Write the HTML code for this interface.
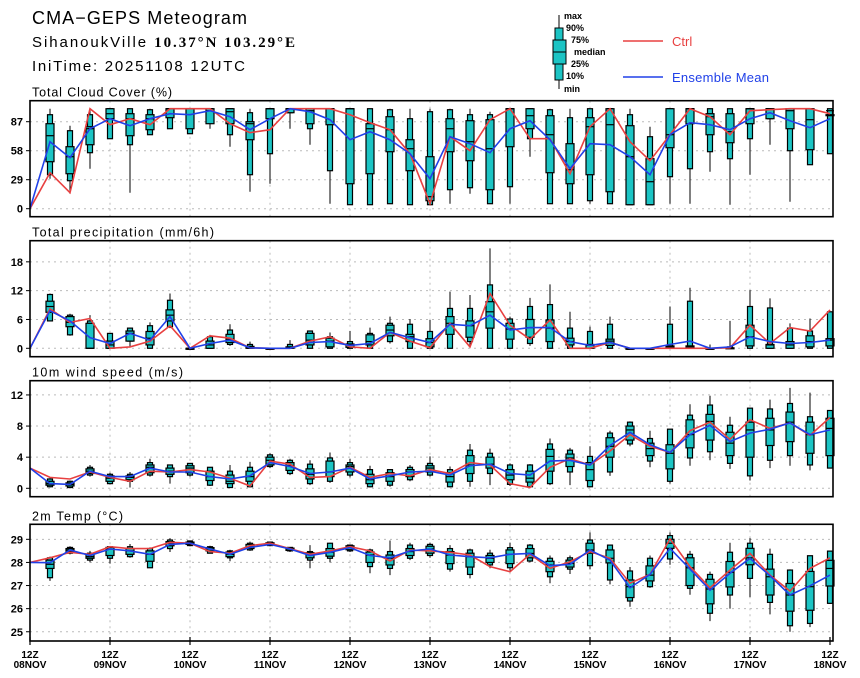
<!DOCTYPE html>
<html><head><meta charset="utf-8"><style>
html,body{margin:0;padding:0;background:#fff;width:860px;height:678px;overflow:hidden}
svg{display:block}
text{font-family:"Liberation Sans",sans-serif}
</style></head><body>
<svg id="chart" width="860" height="678" viewBox="0 0 860 678" xmlns="http://www.w3.org/2000/svg">
<text x="32" y="24" font-size="18" fill="#000" textLength="215" lengthAdjust="spacing">CMA−GEPS Meteogram</text>
<text x="32" y="47" font-size="15" fill="#000" textLength="263" lengthAdjust="spacing">SihanoukVille <tspan font-weight="bold" font-family="Liberation Serif">10.37°N 103.29°E</tspan></text>
<text x="32" y="71" font-size="15" fill="#000" textLength="213" lengthAdjust="spacing">IniTime: 20251108 12UTC</text>
<g>
 <g>
  <line x1="559" y1="15" x2="559" y2="89" stroke="#000" stroke-width="1"/>
  <rect x="555" y="28" width="8" height="52" fill="#1cc4c4" stroke="#000" stroke-width="1"/>
  <rect x="553" y="40" width="13" height="24" fill="#1cc4c4" stroke="#000" stroke-width="1"/>
  <line x1="553" y1="52" x2="566" y2="52" stroke="#000"/>
 </g>
 <g font-size="9" font-weight="bold" fill="#000">
  <text x="564" y="19">max</text>
  <text x="566" y="31">90%</text>
  <text x="571" y="43">75%</text>
  <text x="574" y="55">median</text>
  <text x="571" y="67">25%</text>
  <text x="566" y="79">10%</text>
  <text x="564" y="92">min</text>
 </g>
 <line x1="623" y1="41" x2="663" y2="41" stroke="#e84040" stroke-width="1.5"/>
 <text x="672" y="46" font-size="13" fill="#e84040">Ctrl</text>
 <line x1="623" y1="77" x2="663" y2="77" stroke="#2040e8" stroke-width="1.5"/>
 <text x="672" y="82" font-size="13" fill="#2040e8" textLength="97" lengthAdjust="spacing">Ensemble Mean</text>
</g>
</svg>
<script>
const dayLabels=["08NOV","09NOV","10NOV","11NOV","12NOV","13NOV","14NOV","15NOV","16NOV","17NOV","18NOV"];
const N=null;
// Total cloud cover (%)
const cldMax=[N,100,83,100,100,100,100,100,100,100,100,100,100,100,100,100,100,100,100,100,100,100,100,97,100,100,100,100,100,100,100,82,100,100,100,100,100,100,100,100,100];
const cldP90=[N,94,78,94,100,100,99,100,100,100,100,96,100,100,100,100,100,100,99,90,97,99,94,94,100,100,99,91,100,100,94,72,100,100,100,100,100,100,100,100,100];
const cldP75=[N,85,62,82,100,95,94,100,100,100,100,87,100,100,100,100,100,85,92,69,52,90,88,89,100,100,93,65,91,100,83,50,100,100,95,95,100,100,100,100,94];
const cldMed=[N,73,52,80,95,90,90,100,100,98,97,85,100,100,98,100,100,80,79,60,12,80,67,60,100,93,74,39,82,84,52,27,74,100,92,77,100,100,98,89,98];
const cldP25=[N,47,35,64,90,73,79,91,80,85,85,69,90,96,85,84,25,35,57,38,8,57,48,19,62,80,36,25,34,17,4,4,61,85,74,66,85,90,80,59,94];
const cldP10=[N,34,28,56,70,64,74,80,75,89,74,34,55,96,80,38,4,4,5,4,4,19,21,5,22,70,5,5,8,5,4,4,32,40,57,50,70,90,58,44,55];
const cldMin=[N,30,15,40,70,16,74,80,75,80,62,17,25,80,64,5,4,4,5,4,4,5,15,5,5,52,5,5,5,5,4,4,5,5,37,4,34,64,7,44,55];
const cldCtrl=[0,36,16,100,84,90,84,100,100,100,85,76,79,100,100,100,94,86,79,55,5,72,58,89,100,70,70,35,82,100,67,48,74,100,92,74,98,99,100,100,95];
const cldMean=[0,67,51,80,90,83,90,95,94,98,92,79,90,100,97,89,69,77,69,55,30,72,65,56,80,88,69,40,65,64,52,34,74,86,84,79,90,96,88,81,90];
const cldTicks=[0,29,58,87];
// Total precipitation (mm/6h)
const prMax=[N,11.4,7.2,6.9,3.1,4.3,5.4,11.4,0,2.8,5.0,1.4,0,1.7,3.6,3.3,3.6,4.3,6.6,6.1,5.9,11.8,11.1,20.8,6.6,10.5,13.3,7.6,4.5,6.6,0,0,8.7,12.6,0.8,5.7,12.1,10.4,5.2,6.2,7.6];
const prP90=[N,11.2,6.9,5.7,3.1,4.2,4.7,10,0,2.4,3.8,0.8,0,0.8,3.6,2.4,1.4,3.1,5.2,5.0,3.5,8.3,8.3,13.2,6.1,8.7,9.1,4.2,3.5,5.0,0,0,5.0,9.8,0,0.3,8.7,8.4,4.2,3.6,7.6];
const prP75=[N,9.8,6.6,5.2,1.5,3.6,3.5,8,0,1.5,2.9,0.4,0,0.3,3.1,2.1,0.9,2.8,4.8,2.9,2.0,6.6,5.7,9.7,5.2,6.0,5.9,2.1,0.8,1.9,0,0,0.5,0.5,0,0.1,4.8,0.8,1.4,2.6,2.0];
const prMed=[N,8.7,5.4,0,0.7,3.1,2.1,6.9,0,0.7,1.9,0.2,0,0.1,1.7,1.5,0.6,1.4,3.8,2.4,1.2,5.2,4.7,7.6,4.0,4.3,4.2,1.4,0.6,1.5,0,0,0.3,0.3,0,0,2.4,0.7,0.7,1.4,1.7];
const prP25=[N,7.5,4.5,0,0,1.5,0.7,5.7,0,0,1.2,0,0,0,0.7,0.3,0.2,0.7,2.6,1.4,0.3,2.9,2.3,4.2,1.9,2.3,1.4,0.7,0,0.6,0,0,0,0,0,0,0.5,0,0,0.3,0.5];
const prP10=[N,5.7,2.8,0,0,1.5,0,4.5,0,0,0.8,0,0,0,0,0,0,0,1.4,0,0,0,1.4,0,0,1.0,0,0,0,0,0,0,0,0,0,0,0,0,0,0,0];
const prMin=[N,5.7,2.6,0,0,0.3,0,4.2,0,0,0.5,0,0,0,0,0,0,0,1.0,0,0,0,0.5,0,0,0.5,0,0,0,0,0,0,0,0,0,0,0,0,0,0,0];
const prCtrl=[0,8.2,5.4,6.2,0,0.3,1.5,4.7,0,2.6,2.1,0.1,0,0,1.5,2.4,0.3,0,3.3,1.5,0.1,5.2,0.3,11.4,4.8,1.9,5.9,0,0,1.2,0,0,0,0,0,0.1,4.8,1.0,4.3,3.6,8.0];
const prMean=[0,7.8,5.7,2.2,1.0,3.1,1.7,6.6,0,1.0,1.7,0.1,0,0,1.2,1.4,0.6,1.0,3.3,2.2,1.2,5.0,4.7,6.9,3.8,4.3,4.3,1.4,0.6,1.2,0,0,0.8,1.5,0,0.3,2.4,1.4,1.0,1.2,1.7];
const prTicks=[0,6,12,18];
// 10m wind speed (m/s)
const wsMax=[N,1.3,1.0,3.0,2.0,2.1,3.8,3.0,3.2,2.7,3.0,3.4,4.5,3.8,3.6,4.6,3.8,2.9,2.4,3.0,4.1,2.8,5.7,5.1,3.2,3.1,6.4,5.2,5.4,7.4,8.6,7.4,7.6,10.8,11.9,9.2,10.3,11.4,12.9,12.3,10.0];
const wsP90=[N,1.2,0.9,2.7,1.8,1.8,3.3,3.0,3.2,2.7,2.2,2.7,4.3,3.6,3.1,3.9,3.3,2.4,2.4,2.7,3.2,2.4,4.9,4.5,3.0,3.0,5.7,4.9,4.1,7.1,8.5,6.4,7.6,9.4,10.7,8.1,10.3,10.2,10.9,9.2,10.0];
const wsP75=[N,0.9,0.7,2.5,1.6,1.6,3.0,2.6,2.9,2.2,1.7,2.2,4.0,3.3,2.5,3.5,3.0,1.8,2.0,2.4,2.9,2.0,4.2,4.0,2.4,2.2,5.0,4.4,3.3,6.5,8.0,5.8,5.6,8.8,9.5,7.2,8.5,9.0,9.8,8.5,9.0];
const wsMed=[N,0.6,0.5,2.2,1.3,1.4,2.7,2.2,2.6,1.5,0.9,1.5,3.6,2.9,1.8,2.1,2.8,1.1,1.5,2.1,2.6,1.5,3.0,3.1,1.7,1.3,4.1,3.9,2.4,5.4,7.5,5.1,4.5,6.9,8.6,5.8,7.5,7.5,8.5,6.9,7.7];
const wsP25=[N,0.4,0.3,1.9,0.9,1.1,2.0,1.8,2.0,1.0,0.6,0.9,3.0,2.3,1.2,1.5,2.1,0.6,0.9,1.5,2.1,0.8,1.9,2.6,1.1,0.8,2.2,2.8,1.0,4.0,6.2,4.2,2.5,5.2,6.2,4.2,4.0,5.5,6.0,4.5,4.2];
const wsP10=[N,0.2,0.1,1.7,0.6,0.9,1.7,1.5,1.7,0.4,0.1,0.2,2.8,1.9,0.6,0.9,1.7,0.2,0.4,1.1,1.7,0.2,0.9,1.9,0.5,0.2,0.6,2.1,0.2,2.1,5.7,3.5,0.9,3.9,4.7,3.2,1.6,3.6,4.2,3.0,2.6];
const wsMin=[N,0.1,0.0,1.5,0.5,0.1,1.5,0.6,1.5,0.3,0.1,0.1,2.6,1.7,0.4,0.7,1.4,0.1,0.2,0.9,1.5,0.1,0.2,0.4,0.3,0.1,0.4,0.4,0.1,1.6,5.4,2.7,0.6,2.9,3.6,2.5,1.0,2.6,2.9,2.3,2.6];
const wsCtrl=[2.6,1.4,1.2,2.1,1.4,0.9,2.2,2.1,2.4,2.1,1.3,0.3,3.5,3.1,1.4,1.5,2.7,1.4,1.9,1.6,2.4,1.9,3.3,3.0,0.6,0.1,2.7,3.8,3.0,4.8,6.9,5.4,4.6,7.4,8.5,6.3,8.8,7.7,8.4,6.8,9.1];
const wsMean=[2.6,0.6,0.5,2.2,1.5,1.5,2.6,2.1,2.1,1.5,1.2,1.6,3.3,2.8,1.9,2.1,2.6,1.2,1.6,2.1,2.2,1.7,2.9,3.1,1.9,1.7,3.5,3.6,3.0,5.5,7.2,5.6,4.6,6.9,8.1,6.0,7.1,7.6,8.4,6.9,7.5];
const wsTicks=[0,4,8,12];
// 2m temperature (C)
const tMax=[N,28.25,28.7,28.5,28.7,28.8,28.65,29.05,28.95,28.72,28.55,28.9,28.9,28.65,28.75,28.85,28.75,28.6,28.95,28.85,28.85,28.75,28.6,28.55,28.85,28.8,28.3,28.3,29.3,28.75,27.8,28.3,29.3,28.5,27.6,28.85,29.05,28.6,27.7,28.3,28.5];
const tP90=[N,28.2,28.65,28.4,28.68,28.68,28.6,28.97,28.93,28.68,28.5,28.83,28.88,28.65,28.47,28.83,28.75,28.54,28.47,28.75,28.78,28.6,28.54,28.4,28.64,28.75,28.18,28.2,28.97,28.75,27.63,28.18,29.16,28.35,27.48,28.44,28.83,28.35,27.67,28.29,28.49];
const tP75=[N,28.1,28.6,28.35,28.65,28.6,28.5,28.9,28.88,28.64,28.45,28.78,28.85,28.62,28.42,28.6,28.72,28.45,28.32,28.6,28.7,28.47,28.4,28.3,28.54,28.6,28.05,28.1,28.83,28.54,27.24,27.85,29.0,28.2,27.27,28.04,28.61,27.71,27.09,27.61,28.09];
const tMed=[N,27.92,28.54,28.25,28.58,28.5,28.35,28.83,28.83,28.58,28.35,28.68,28.83,28.58,28.35,28.44,28.64,28.32,28.18,28.47,28.58,28.32,28.25,28.18,28.35,28.39,27.89,27.96,28.54,28.18,26.95,27.45,28.83,27.77,26.85,27.57,28.2,27.38,26.59,26.95,27.74];
const tP25=[N,27.74,28.48,28.18,28.3,28.35,28.05,28.72,28.78,28.5,28.25,28.6,28.78,28.52,28.2,28.27,28.55,28.0,27.89,28.3,28.4,27.95,27.8,28.0,27.95,28.2,27.6,27.8,28.4,27.98,26.48,27.2,28.61,27.0,26.21,26.94,27.9,26.59,25.89,25.93,26.98];
const tP10=[N,27.34,28.4,28.1,28.18,28.25,27.77,28.6,28.73,28.4,28.2,28.54,28.73,28.5,28.1,28.18,28.5,27.82,27.74,28.18,28.3,27.71,27.48,27.89,27.77,28.06,27.38,27.71,27.86,27.24,26.33,26.95,28.15,26.88,25.8,26.59,27.31,26.27,25.26,25.36,26.23];
const tMin=[N,27.2,28.35,28.0,27.95,28.2,27.77,28.45,28.7,28.4,28.05,28.5,28.7,28.45,27.75,28.0,28.45,27.53,27.45,28.1,28.2,27.6,27.31,27.75,27.65,28.0,27.1,27.5,27.7,27.05,26.08,26.9,27.9,26.6,25.46,26.0,26.5,25.75,25.0,25.2,26.2];
const tCtrl=[28.0,28.2,28.44,28.35,28.68,28.6,28.6,28.87,28.83,28.47,28.4,28.73,28.83,28.6,28.35,28.5,28.68,28.5,28.06,28.54,28.5,28.44,28.32,27.82,27.6,28.35,27.74,28.03,28.47,28.18,27.1,27.48,29.02,27.82,26.9,27.67,28.39,27.45,26.76,27.74,28.2];
const tMean=[28.0,27.99,28.54,28.3,28.58,28.5,28.35,28.78,28.83,28.58,28.35,28.65,28.78,28.58,28.3,28.44,28.64,28.3,28.2,28.5,28.58,28.32,28.25,28.2,28.35,28.39,27.86,27.92,28.54,28.1,26.9,27.48,28.61,27.71,26.8,27.53,28.18,27.42,26.59,26.99,27.45];
const tTicks=[25,26,27,28,29];

const NS="http://www.w3.org/2000/svg";
const svg=document.getElementById("chart");
const X0=30,X1=833,NSTEP=40;
function xS(i){return X0+(X1-3-X0)*i/NSTEP;}
function mk(tag,attrs,parent){const e=document.createElementNS(NS,tag);for(const k in attrs)e.setAttribute(k,attrs[k]);(parent||svg).appendChild(e);return e;}

function panel(key,title,titleLen,top,bot,vmin,vmax,ticks,mx,p90,p75,md,p25,p10,mn,ctrl,mean,isLast){
  const g=mk("g",{});
  
  
  const y=v=>bot-(v-vmin)/(vmax-vmin)*(bot-top);
  const t=mk("text",{x:X0+2,y:top-4,"font-size":"12.5",fill:"#000",textLength:titleLen,lengthAdjust:"spacing"},g);
  t.textContent=title;
  
  
  ticks.forEach(v=>{
    const l=mk("line",{x1:X0,x2:X1,y1:y(v),y2:y(v),stroke:"#bbb","stroke-dasharray":"2,4","stroke-width":"1"},g);
    
    
    const tk=mk("line",{x1:X0-4,x2:X0,y1:y(v),y2:y(v),stroke:"#000"},g);
    
    
    const tl=mk("text",{x:X0-7,y:y(v)+4,"font-size":"11","font-weight":"bold","text-anchor":"end",fill:"#000"},g);
    tl.textContent=v;
    
    
  });
  for(let d=1;d<dayLabels.length-1;d++){
    const l=mk("line",{x1:xS(d*4),x2:xS(d*4),y1:top,y2:bot,stroke:"#bbb","stroke-dasharray":"2,4"},g);
    
    
  }
  for(let i=0;i<mx.length;i++){
    if(mx[i]===null)continue;
    const bg=mk("g",{},g);
    
    
    const cx=xS(i);
    mk("line",{x1:cx,x2:cx,y1:y(mx[i]),y2:y(mn[i]),stroke:"#000","stroke-width":"1"},bg);
    mk("rect",{x:cx-2.5,y:y(p90[i]),width:5,height:Math.max(1,y(p10[i])-y(p90[i])),fill:"#1cc4c4",stroke:"#000","stroke-width":"1.2"},bg);
    mk("rect",{x:cx-4,y:y(p75[i]),width:8,height:Math.max(1,y(p25[i])-y(p75[i])),fill:"#1cc4c4",stroke:"#000","stroke-width":"1.2"},bg);
    mk("line",{x1:cx-4,x2:cx+4,y1:y(md[i]),y2:y(md[i]),stroke:"#000","stroke-width":"1.2"},bg);
  }
  const pc=ctrl.map((v,i)=>xS(i).toFixed(1)+","+y(v).toFixed(1)).join(" ");
  const lc=mk("polyline",{points:pc,fill:"none",stroke:"#e84040","stroke-width":"1.6"},g);
  
  
  const pm=mean.map((v,i)=>xS(i).toFixed(1)+","+y(v).toFixed(1)).join(" ");
  const lm=mk("polyline",{points:pm,fill:"none",stroke:"#2040e8","stroke-width":"1.6"},g);
  
  
  const fr=mk("rect",{x:X0,y:top,width:X1-X0,height:bot-top,fill:"none",stroke:"#000","stroke-width":"1.6"},g);
  
  
  if(isLast){
    for(let d=0;d<dayLabels.length;d++){
      const cx=xS(d*4);
      const tk=mk("line",{x1:cx,x2:cx,y1:bot-4,y2:bot+4,stroke:"#000","stroke-width":"1.2"},g);
      
      
      const a=mk("text",{x:cx,y:bot+17,"font-size":"10","font-weight":"bold","text-anchor":"middle",fill:"#000"},g);
      a.textContent="12Z";
      
      
      const b=mk("text",{x:cx,y:bot+27,"font-size":"10","font-weight":"bold","text-anchor":"middle",fill:"#000"},g);
      b.textContent=dayLabels[d];
      
      
    }
  }
}
panel("cloud","Total Cloud Cover (%)",140,100.7,216.7,-8,108,cldTicks,cldMax,cldP90,cldP75,cldMed,cldP25,cldP10,cldMin,cldCtrl,cldMean,false);
panel("precip","Total precipitation (mm/6h)",182,240.7,356.7,-1.75,22.4,prTicks,prMax,prP90,prP75,prMed,prP25,prP10,prMin,prCtrl,prMean,false);
panel("wind","10m wind speed (m/s)",151,380.7,496.7,-1.08,13.83,wsTicks,wsMax,wsP90,wsP75,wsMed,wsP25,wsP10,wsMin,wsCtrl,wsMean,false);
panel("temp","2m Temp (°C)",91,524.3,641,24.6,29.65,tTicks,tMax,tP90,tP75,tMed,tP25,tP10,tMin,tCtrl,tMean,true);
</script>
</body></html>
